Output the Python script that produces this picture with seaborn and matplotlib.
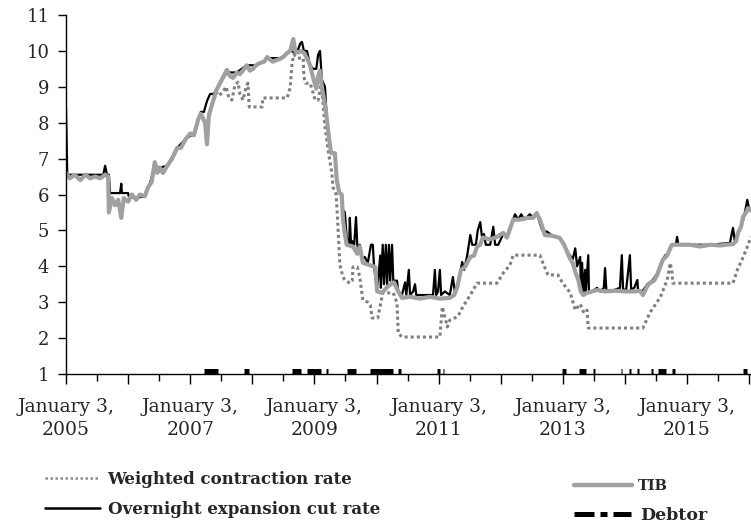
import matplotlib
matplotlib.use("Agg")
import matplotlib.pyplot as plt
from matplotlib.lines import Line2D
import pandas as pd
import seaborn as sns

# time in years, counted from January 3 of each year
tib_year = [2005.00, 2005.06, 2005.14, 2005.23, 2005.31, 2005.39, 2005.47, 2005.55, 2005.63, 2005.68,
            2005.69, 2005.74, 2005.79, 2005.84, 2005.89, 2005.93, 2006.00, 2006.06, 2006.13, 2006.19,
            2006.27, 2006.32, 2006.38, 2006.43, 2006.47, 2006.51, 2006.56, 2006.63, 2006.71, 2006.79,
            2006.85, 2006.93, 2007.00, 2007.06, 2007.13, 2007.17, 2007.24, 2007.27, 2007.30, 2007.35,
            2007.42, 2007.48, 2007.54, 2007.59, 2007.64, 2007.69, 2007.75, 2007.80, 2007.87, 2007.91,
            2007.96, 2008.01, 2008.06, 2008.12, 2008.19, 2008.24, 2008.29, 2008.33, 2008.40, 2008.45,
            2008.51, 2008.56, 2008.61, 2008.66, 2008.69, 2008.74, 2008.78, 2008.83, 2008.88, 2008.93,
            2008.98, 2009.03, 2009.06, 2009.09, 2009.12, 2009.17, 2009.20, 2009.24, 2009.27, 2009.33,
            2009.36, 2009.40, 2009.44, 2009.46, 2009.49, 2009.52, 2009.62, 2009.69, 2009.73, 2009.78,
            2009.86, 2009.98, 2010.01, 2010.09, 2010.17, 2010.23, 2010.28, 2010.35, 2010.41, 2010.54,
            2010.70, 2010.86, 2011.02, 2011.18, 2011.25, 2011.30, 2011.36, 2011.43, 2011.51, 2011.57,
            2011.62, 2011.67, 2011.71, 2011.83, 2011.94, 2012.04, 2012.10, 2012.15, 2012.20, 2012.31,
            2012.42, 2012.52, 2012.58, 2012.63, 2012.67, 2012.71, 2012.83, 2012.95, 2013.02, 2013.07,
            2013.12, 2013.16, 2013.21, 2013.25, 2013.29, 2013.33, 2013.39, 2013.47, 2013.55, 2013.68,
            2013.84, 2014.00, 2014.16, 2014.24, 2014.29, 2014.36, 2014.40, 2014.47, 2014.52, 2014.57,
            2014.61, 2014.68, 2014.73, 2014.76, 2015.05, 2015.21, 2015.37, 2015.53, 2015.74, 2015.79,
            2015.82, 2015.87, 2015.90, 2015.95, 2015.98, 2016.03]
tib_rate = [6.6, 6.45, 6.55, 6.4, 6.55, 6.45, 6.5, 6.45, 6.55, 6.5,
            5.5, 5.9, 5.7, 5.85, 5.35, 5.9, 5.8, 6.0, 5.85, 6.0,
            5.95, 6.2, 6.35, 6.9, 6.6, 6.75, 6.6, 6.8, 7.0, 7.3,
            7.3, 7.55, 7.7, 7.65, 8.1, 8.25, 8.0, 7.4, 8.2, 8.5,
            8.9, 9.1, 9.3, 9.47, 9.3, 9.25, 9.4, 9.35, 9.5, 9.6,
            9.45, 9.5, 9.6, 9.66, 9.7, 9.83, 9.75, 9.7, 9.75, 9.78,
            9.85, 9.94, 10.0, 10.33, 10.0, 9.95, 10.0, 9.95, 9.8, 9.6,
            9.25, 8.95, 9.3, 9.45, 9.0, 8.5, 8.1, 7.5, 7.15, 7.15,
            6.4, 6.05, 6.0, 5.3, 4.9, 4.6, 4.55, 4.35, 4.55, 4.1,
            4.05, 3.98, 3.3, 3.26, 3.42, 3.5, 3.55, 3.3, 3.12, 3.15,
            3.1, 3.15, 3.1, 3.12, 3.2, 3.42, 3.9, 4.0, 4.26, 4.3,
            4.55, 4.6, 4.8, 4.75, 4.82, 4.93, 4.8, 5.05, 5.3, 5.3,
            5.35, 5.35, 5.48, 5.3, 5.1, 4.87, 4.85, 4.79, 4.6, 4.4,
            4.2, 4.09, 3.8, 3.62, 3.3, 3.2, 3.26, 3.3, 3.34, 3.3,
            3.32, 3.3, 3.3, 3.32, 3.2, 3.45, 3.53, 3.6, 3.76, 4.0,
            4.18, 4.3, 4.5, 4.6, 4.6, 4.55, 4.6, 4.58, 4.62, 4.7,
            4.93, 5.1, 5.37, 5.5, 5.62, 5.55]

# overnight expansion cut rate
oer_year = [2005.00, 2005.02, 2005.03, 2005.60, 2005.63, 2005.66, 2005.69, 2005.71, 2005.87, 2005.89,
            2005.90, 2006.00, 2006.01, 2006.11, 2006.27, 2006.35, 2006.43, 2006.51, 2006.63, 2006.79,
            2006.93, 2007.06, 2007.13, 2007.17, 2007.22, 2007.27, 2007.32, 2007.37, 2007.42, 2007.48,
            2007.59, 2007.75, 2007.91, 2008.06, 2008.19, 2008.24, 2008.45, 2008.51, 2008.61, 2008.72,
            2008.77, 2008.80, 2008.83, 2008.88, 2008.93, 2008.98, 2009.03, 2009.06, 2009.09, 2009.12,
            2009.17, 2009.20, 2009.24, 2009.27, 2009.33, 2009.36, 2009.40, 2009.44, 2009.46, 2009.49,
            2009.52, 2009.56, 2009.57, 2009.59, 2009.61, 2009.64, 2009.67, 2009.69, 2009.70, 2009.73,
            2009.77, 2009.81, 2009.86, 2009.91, 2009.94, 2009.96, 2009.99, 2010.02, 2010.06, 2010.07,
            2010.10, 2010.12, 2010.15, 2010.17, 2010.20, 2010.22, 2010.25, 2010.27, 2010.33, 2010.35,
            2010.41, 2010.46, 2010.48, 2010.52, 2010.54, 2010.59, 2010.62, 2010.64, 2010.78, 2010.91,
            2010.94, 2010.96, 2010.99, 2011.02, 2011.04, 2011.10, 2011.18, 2011.23, 2011.26, 2011.31,
            2011.38, 2011.41, 2011.46, 2011.51, 2011.54, 2011.60, 2011.63, 2011.67, 2011.70, 2011.73,
            2011.76, 2011.83, 2011.88, 2011.91, 2011.96, 2012.04, 2012.10, 2012.15, 2012.20, 2012.23,
            2012.28, 2012.33, 2012.38, 2012.47, 2012.52, 2012.58, 2012.63, 2012.67, 2012.75, 2012.83,
            2012.95, 2013.02, 2013.07, 2013.16, 2013.20, 2013.23, 2013.28, 2013.29, 2013.31, 2013.33,
            2013.36, 2013.37, 2013.41, 2013.42, 2013.47, 2013.55, 2013.60, 2013.66, 2013.68, 2013.70,
            2013.76, 2013.84, 2013.92, 2013.95, 2013.97, 2014.02, 2014.08, 2014.10, 2014.15, 2014.20,
            2014.21, 2014.28, 2014.36, 2014.44, 2014.52, 2014.57, 2014.61, 2014.65, 2014.68, 2014.73,
            2014.76, 2014.82, 2014.84, 2014.86, 2015.05, 2015.37, 2015.69, 2015.74, 2015.77, 2015.82,
            2015.87, 2015.92, 2015.97, 2016.00, 2016.03]
oer_rate = [8.4, 6.6, 6.55, 6.55, 6.8, 6.55, 6.55, 6.04, 6.04, 6.3,
            6.04, 6.04, 5.95, 5.9, 5.95, 6.3, 6.8, 6.75, 6.8, 7.3,
            7.55, 7.7, 8.1, 8.3, 8.3, 8.6, 8.8, 8.8, 8.9, 9.1,
            9.4, 9.4, 9.6, 9.6, 9.7, 9.8, 9.8, 9.85, 10.0, 9.95,
            10.2, 10.25, 10.0, 10.0, 9.6, 9.5, 9.5, 9.9, 10.0, 9.2,
            9.0, 8.1, 7.5, 7.15, 7.15, 6.4, 6.05, 6.0, 5.57, 5.5,
            4.8, 4.6, 5.35, 4.6, 4.7, 4.6, 5.37, 4.6, 4.5, 4.6,
            4.2, 4.26, 4.1, 4.6, 4.6, 4.0, 3.6, 3.5, 4.3, 3.4,
            4.6, 3.5, 4.6, 3.5, 4.6, 3.6, 4.6, 3.6, 3.6, 3.3,
            3.2, 3.55, 3.2, 3.9, 3.2, 3.3, 3.5, 3.2, 3.2, 3.2,
            3.9, 3.2, 3.3, 3.9, 3.2, 3.3, 3.2, 3.7, 3.3, 3.5,
            4.12, 3.9, 4.3, 4.87, 4.6, 4.6, 5.0, 5.23, 4.8, 4.9,
            4.6, 4.6, 5.1, 4.6, 4.6, 4.9, 4.8, 5.05, 5.3, 5.45,
            5.3, 5.45, 5.3, 5.45, 5.35, 5.5, 5.2, 5.0, 4.96, 4.85,
            4.8, 4.6, 4.4, 4.2, 4.5, 4.0, 4.26, 3.3, 4.1, 3.3,
            3.9, 3.3, 4.31, 3.3, 3.3, 3.4, 3.3, 3.4, 3.95, 3.35,
            3.3, 3.35, 3.4, 4.31, 3.35, 3.35, 4.31, 3.35, 3.4, 3.62,
            3.35, 3.3, 3.5, 3.6, 3.8, 4.05, 4.2, 4.31, 4.3, 4.55,
            4.6, 4.6, 4.82, 4.6, 4.6, 4.6, 4.65, 5.07, 4.7, 4.95,
            5.1, 5.4, 5.85, 5.6, 5.6]

# weighted contraction rate
wcr_year = [2005.00, 2005.06, 2005.14, 2005.23, 2005.31, 2005.39, 2005.47, 2005.55, 2005.63, 2005.68,
            2005.69, 2005.74, 2005.79, 2005.84, 2005.89, 2005.93, 2006.00, 2006.06, 2006.13, 2006.19,
            2006.27, 2006.32, 2006.38, 2006.43, 2006.47, 2006.51, 2006.56, 2006.63, 2006.71, 2006.79,
            2006.85, 2006.93, 2007.00, 2007.06, 2007.13, 2007.17, 2007.24, 2007.27, 2007.30, 2007.35,
            2007.42, 2007.46, 2007.51, 2007.58, 2007.62, 2007.67, 2007.72, 2007.77, 2007.80, 2007.85,
            2007.90, 2007.93, 2007.95, 2008.16, 2008.17, 2008.56, 2008.61, 2008.64, 2008.67, 2008.72,
            2008.82, 2008.83, 2008.86, 2008.93, 2008.98, 2009.01, 2009.06, 2009.11, 2009.14, 2009.17,
            2009.22, 2009.28, 2009.30, 2009.35, 2009.38, 2009.41, 2009.46, 2009.49, 2009.57, 2009.61,
            2009.62, 2009.69, 2009.73, 2009.78, 2009.86, 2009.90, 2009.93, 2010.02, 2010.06, 2010.10,
            2010.27, 2010.33, 2010.35, 2010.41, 2011.02, 2011.06, 2011.10, 2011.14, 2011.18, 2011.30,
            2011.34, 2011.39, 2011.51, 2011.62, 2011.94, 2012.04, 2012.15, 2012.20, 2012.63, 2012.68,
            2012.76, 2012.92, 2013.00, 2013.12, 2013.20, 2013.28, 2013.34, 2013.39, 2013.41, 2014.29,
            2014.40, 2014.57, 2014.68, 2014.73, 2014.76, 2014.77, 2015.74, 2015.81, 2015.89, 2015.97,
            2016.03]
wcr_rate = [6.6, 6.45, 6.55, 6.4, 6.55, 6.45, 6.5, 6.45, 6.55, 6.5,
            5.5, 5.9, 5.7, 5.85, 5.35, 5.9, 5.8, 6.0, 5.85, 6.0,
            5.95, 6.2, 6.35, 6.9, 6.6, 6.75, 6.6, 6.8, 7.0, 7.3,
            7.3, 7.55, 7.7, 7.65, 8.1, 8.25, 8.0, 7.4, 8.2, 8.5,
            8.85, 8.75, 8.83, 9.0, 8.7, 8.63, 9.05, 9.13, 8.8, 8.63,
            9.0, 9.1, 8.44, 8.44, 8.69, 8.69, 8.97, 9.66, 9.9, 9.8,
            9.8, 9.27, 9.1, 9.1, 8.83, 8.63, 8.63, 9.1, 8.5, 7.9,
            7.24, 6.6, 6.2, 6.0, 5.07, 4.04, 3.7, 3.62, 3.53, 3.6,
            3.98, 3.98, 3.7, 3.06, 3.0, 2.92, 2.56, 2.56, 2.9, 3.26,
            3.26, 2.98, 2.14, 2.03, 2.03, 2.87, 2.6, 2.31, 2.5, 2.59,
            2.7, 2.87, 3.2, 3.53, 3.53, 3.81, 4.04, 4.31, 4.31, 4.09,
            3.76, 3.76, 3.53, 3.26, 2.78, 2.95, 2.7, 2.78, 2.28, 2.28,
            2.7, 3.14, 3.62, 4.09, 3.8, 3.53, 3.53, 3.9, 4.2, 4.54,
            4.82]

# debtor periods
debtor_start = [2007.22, 2007.87, 2008.64, 2008.88, 2009.19, 2009.52, 2009.90, 2010.35, 2010.97, 2011.07,
                2012.99, 2013.26, 2013.49, 2013.94, 2014.07, 2014.20, 2014.42, 2014.53, 2014.76, 2015.90]
debtor_end = [2007.45, 2007.95, 2008.78, 2009.11, 2009.22, 2009.67, 2010.27, 2010.39, 2011.02, 2011.09,
              2013.05, 2013.37, 2013.52, 2013.96, 2014.10, 2014.23, 2014.45, 2014.66, 2014.81, 2015.97]
debtor_level = 1.07

label_years = [2005, 2007, 2009, 2011, 2013, 2015]

wcr = pd.DataFrame({"year": wcr_year, "rate": wcr_rate})
oer = pd.DataFrame({"year": oer_year, "rate": oer_rate})
tib = pd.DataFrame({"year": tib_year, "rate": tib_rate})
rows = []
for i, (s, e) in enumerate(zip(debtor_start, debtor_end)):
    rows.append({"year": s, "rate": debtor_level, "seg": i})
    rows.append({"year": e, "rate": debtor_level, "seg": i})
debtor = pd.DataFrame(rows)

sns.set_style("ticks")
plt.rcParams["font.family"] = ["DejaVu Serif"]

fig = plt.figure(figsize=(7.51, 5.26), dpi=100)
ax = fig.add_axes([66 / 751, 152 / 526, 685 / 751, 359 / 526])

sns.lineplot(data=wcr, x="year", y="rate", ax=ax, color="#7f7f7f", lw=2.2,
             linestyle=(0, (1, 1)), estimator=None, sort=False)
sns.lineplot(data=oer, x="year", y="rate", ax=ax, color="black", lw=1.6,
             estimator=None, sort=False)
sns.lineplot(data=tib, x="year", y="rate", ax=ax, color="#a0a0a0", lw=3.0,
             estimator=None, sort=False)
sns.lineplot(data=debtor, x="year", y="rate", units="seg", ax=ax, color="black",
             lw=3.6, estimator=None, solid_capstyle="butt")

ax.set_xlim(2005, 2016.03)
ax.set_ylim(1, 11)
ax.set_yticks(range(1, 12))
major = list(range(2005, 2017))
ax.set_xticks(major)
ax.set_xticklabels([f"January 3,\n{y}" if y in label_years else "" for y in major],
                   linespacing=1.3)
ax.set_xticks([y + 0.5 for y in range(2005, 2016)], minor=True)
ax.tick_params(axis="x", which="major", length=7.5, width=1, pad=10, labelsize=13.5, color="black")
ax.tick_params(axis="x", which="minor", length=5, width=1, color="black")
ax.tick_params(axis="y", length=6, width=1, pad=6, labelsize=13, color="black")
ax.set_xlabel("")
ax.set_ylabel("")
sns.despine(ax=ax)
for s in ["left", "bottom"]:
    ax.spines[s].set_linewidth(1.0)
    ax.spines[s].set_color("black")

bold = {"family": "DejaVu Serif", "weight": "bold", "size": 12}
h1 = [Line2D([], [], color="#8c8c8c", lw=1.8, ls=(0, (1, 1))),
      Line2D([], [], color="black", lw=1.8)]
fig.legend(h1, ["Weighted contraction rate", "Overnight expansion cut rate"],
           loc="upper left", bbox_to_anchor=(45 / 751, 1 - 471 / 526), frameon=False,
           prop=bold, handlelength=3.3, handletextpad=0.45, labelspacing=0.75,
           borderpad=0, borderaxespad=0)
fig.legend([Line2D([], [], color="#a0a0a0", lw=3.2)], ["TIB"],
           loc="center left", bbox_to_anchor=(574 / 751, 1 - 486 / 526), frameon=False,
           prop={"family": "DejaVu Serif", "weight": "bold", "size": 10.5},
           handlelength=4.0, handletextpad=0.35, borderpad=0, borderaxespad=0)
fig.legend([Line2D([], [], color="black", lw=3.6, dashes=(4, 1.2, 1.4, 1.2))], ["Debtor"],
           loc="center left", bbox_to_anchor=(574 / 751, 1 - 516 / 526), frameon=False,
           prop={"family": "DejaVu Serif", "weight": "bold", "size": 12.5},
           handlelength=3.3, handletextpad=0.5, borderpad=0, borderaxespad=0)

fig.savefig("out.png", dpi=100)
